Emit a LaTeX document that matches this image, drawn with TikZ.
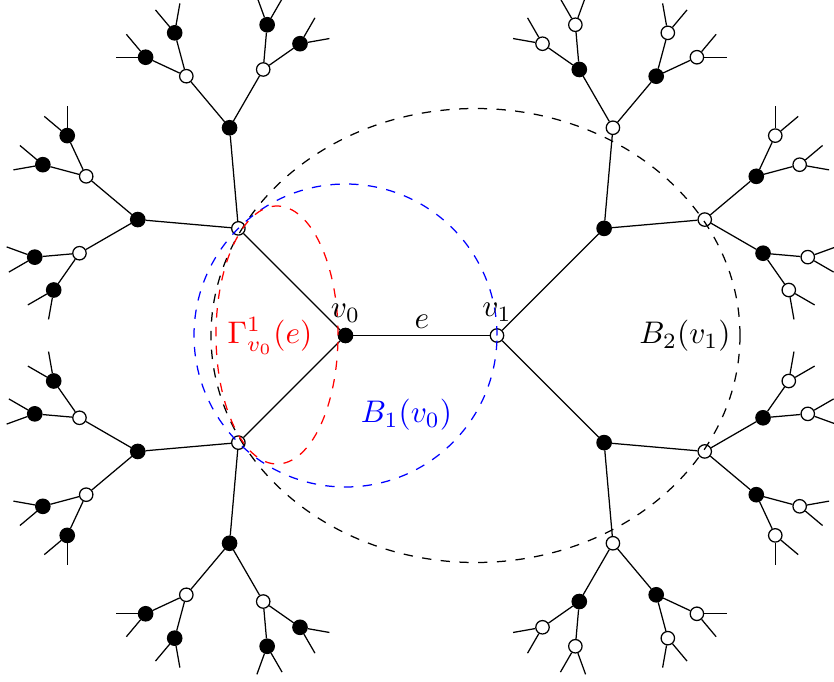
\documentclass[tikz,border=0pt]{standalone}
\usetikzlibrary{calc}
\begin{document}
\begin{tikzpicture}[x=0.32pt,y=0.32pt,
  wn/.style={circle,draw=black,fill=white,line width=0.4pt,inner sep=0pt,minimum size=4.3pt},
  bn/.style={circle,draw=black,fill=black,line width=0.4pt,inner sep=0pt,minimum size=4.6pt},
  edge/.style={line width=0.4pt},
  ball/.style={dashed,line width=0.4pt}]
\useasboundingbox (0,0) rectangle (834,-682);

% central edge
\node[bn] (v0) at (345.5,-335.5) {};
\node[wn] (v1) at (497,-335.5) {};
\draw[edge] (v0) -- (v1);

% the two halves of the tree
\foreach \s/\base/\root/\odd/\even in {L/180/v0/wn/bn, R/0/v1/bn/wn} {
  \foreach \ia/\sa in {a/-1,b/1} {
    \pgfmathsetmacro\angA{\base+45*\sa}
    \node[\odd] (\s\ia) at ($(\root)+(\angA:151.5)$) {};
    \draw[edge] (\root) -- (\s\ia);
    \foreach \ib/\sb in {a/-1,b/1} {
      \pgfmathsetmacro\angB{\angA+40*\sb}
      \node[\even] (\s\ia\ib) at ($(\s\ia)+(\angB:101)$) {};
      \draw[edge] (\s\ia) -- (\s\ia\ib);
      \foreach \ic/\sc in {a/-1,b/1} {
        \pgfmathsetmacro\angC{\angB+35*\sc}
        \node[\odd] (\s\ia\ib\ic) at ($(\s\ia\ib)+(\angC:67.3)$) {};
        \draw[edge] (\s\ia\ib) -- (\s\ia\ib\ic);
        \foreach \id/\sd in {a/-1,b/1} {
          \pgfmathsetmacro\angD{\angC+25*\sd}
          \node[\even] (\s\ia\ib\ic\id) at ($(\s\ia\ib\ic)+(\angD:44.9)$) {};
          \draw[edge] (\s\ia\ib\ic) -- (\s\ia\ib\ic\id);
          \foreach \ie/\se in {a/-1,b/1} {
            \pgfmathsetmacro\angE{\angD+25*\se}
            \coordinate (\s\ia\ib\ic\id\ie) at ($(\s\ia\ib\ic\id)+(\angE:29.9)$);
            \draw[edge] (\s\ia\ib\ic\id) -- (\s\ia\ib\ic\id\ie);
          }
        }
      }
    }
  }
}

% balls
\coordinate (c2) at (475.5,-335.5);
\coordinate (cg) at (277,-335);
\draw[ball,black] (c2) ellipse [x radius=264.5, y radius=227];
\draw[ball,blue] (v0) circle [radius=151.5];
\draw[ball,red] (cg) ellipse [x radius=61, y radius=129];

% labels
\node (lv0) at (345.5,-313) {$v_0$};
\node (lv1) at (497,-312) {$v_1$};
\node (le) at (422,-322) {$e$};
\node[text=red] (lg) at (270,-336) {$\Gamma^1_{v_0}(e)$};
\node[text=blue] (lb1) at (406.5,-415) {$B_1(v_0)$};
\node (lb2) at (685,-336) {$B_2(v_1)$};
\end{tikzpicture}
\end{document}
